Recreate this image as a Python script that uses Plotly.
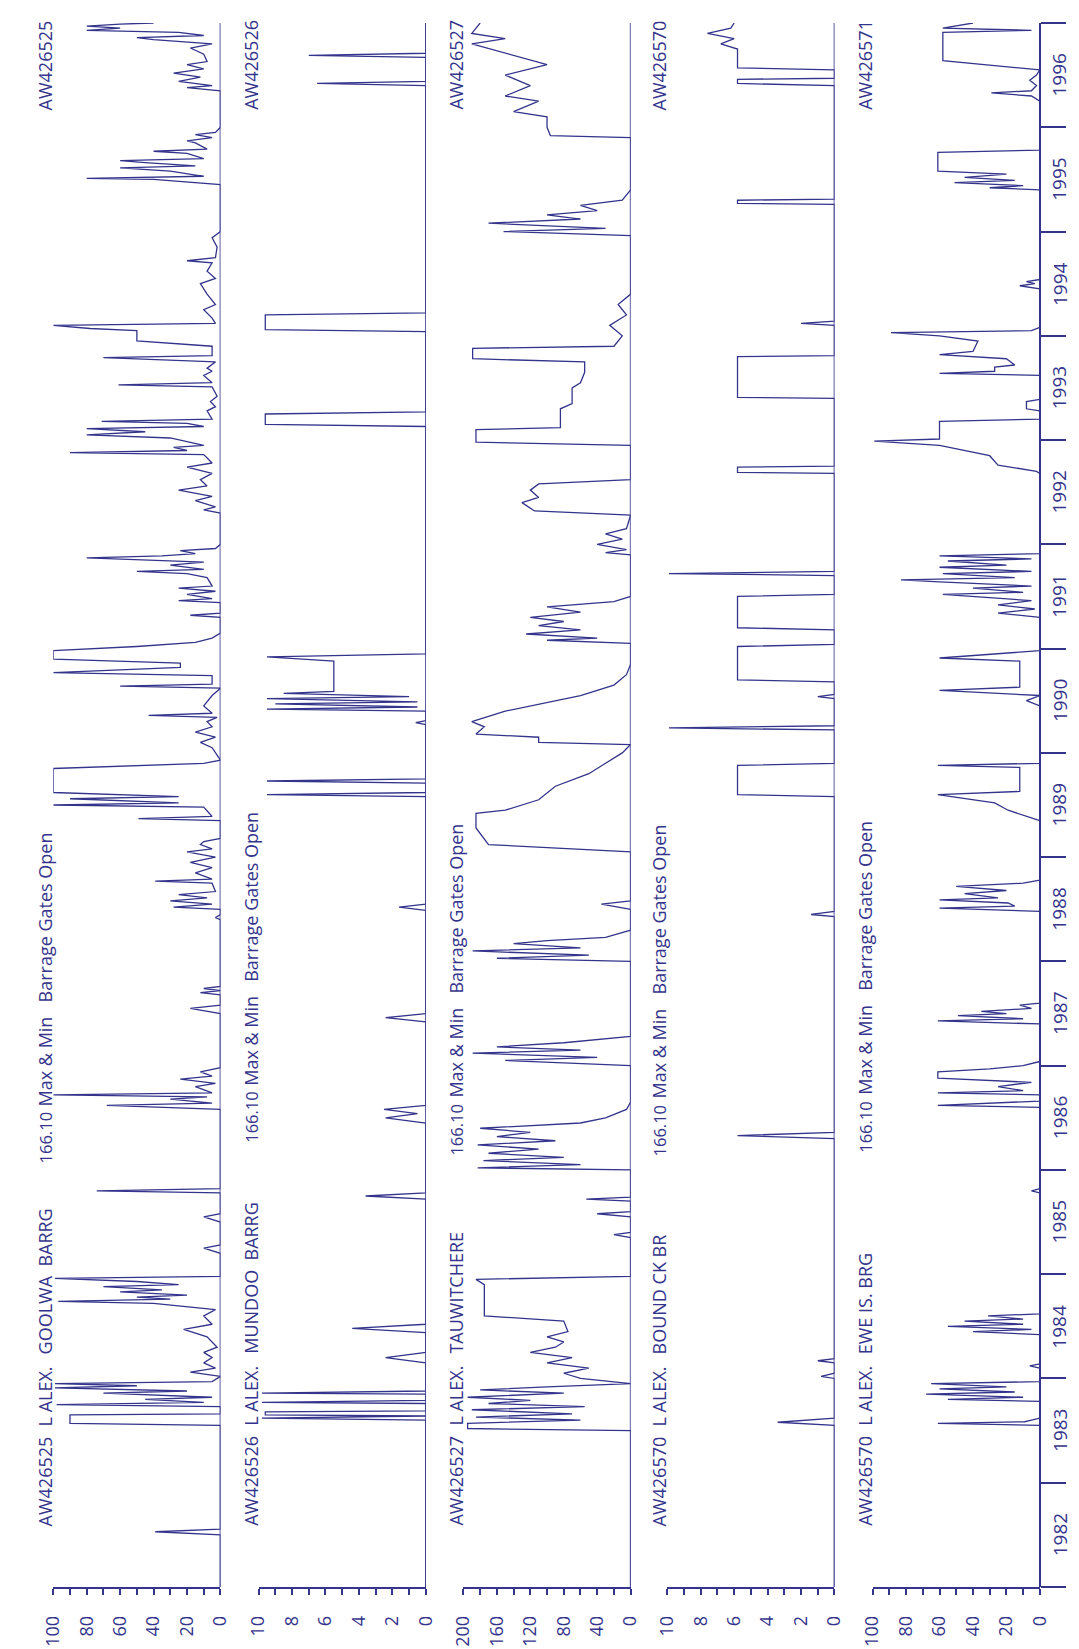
import plotly.graph_objects as go

# ---------------- data (time in decimal years, value) ----------------
t_goolwa = [1982.0, 1982.50, 1982.53, 1982.555, 1983.55, 1983.57, 1983.65, 1983.66, 1983.73, 1983.75, 1983.77, 1983.80, 1983.82,
            1983.86, 1983.88, 1983.91, 1983.93, 1983.95, 1983.97, 1984.02, 1984.06, 1984.10, 1984.15, 1984.20, 1984.25, 1984.30,
            1984.40, 1984.47, 1984.52, 1984.60, 1984.66, 1984.72, 1984.74, 1984.76, 1984.78, 1984.80, 1984.83, 1984.85, 1984.88,
            1984.90, 1984.93, 1984.96, 1984.98, 1985.20, 1985.25, 1985.28, 1985.50, 1985.55, 1985.58, 1985.78, 1985.80, 1985.82,
            1986.58, 1986.62, 1986.64, 1986.68, 1986.70, 1986.72, 1986.74, 1986.80, 1986.83, 1986.87, 1986.90, 1986.94, 1986.98,
            1987.50, 1987.55, 1987.58, 1987.68, 1987.70, 1987.72, 1987.74, 1987.76, 1988.40, 1988.42, 1988.45, 1988.50, 1988.52,
            1988.55, 1988.58, 1988.61, 1988.64, 1988.67, 1988.75, 1988.77, 1988.79, 1988.85, 1988.90, 1988.95, 1989.00, 1989.05,
            1989.08, 1989.12, 1989.15, 1989.18, 1989.35, 1989.37, 1989.39, 1989.48, 1989.50, 1989.52, 1989.56, 1989.58, 1989.62,
            1989.85, 1989.90, 1989.93, 1990.05, 1990.10, 1990.15, 1990.20, 1990.25, 1990.30, 1990.34, 1990.36, 1990.38, 1990.45,
            1990.55, 1990.62, 1990.64, 1990.66, 1990.74, 1990.77, 1990.82, 1990.86, 1990.90, 1990.98, 1991.02, 1991.06, 1991.10,
            1991.15, 1991.30, 1991.32, 1991.34, 1991.44, 1991.46, 1991.48, 1991.52, 1991.55, 1991.58, 1991.60, 1991.68, 1991.72,
            1991.74, 1991.76, 1991.80, 1991.83, 1991.87, 1991.89, 1991.91, 1991.94, 1991.96, 1992.00, 1992.30, 1992.33, 1992.36,
            1992.42, 1992.46, 1992.52, 1992.56, 1992.62, 1992.68, 1992.74, 1992.78, 1992.86, 1992.88, 1992.90, 1992.93, 1992.95,
            1993.02, 1993.05, 1993.08, 1993.11, 1993.13, 1993.16, 1993.18, 1993.20, 1993.28, 1993.32, 1993.37, 1993.42, 1993.51,
            1993.53, 1993.55, 1993.62, 1993.66, 1993.69, 1993.75, 1993.79, 1993.81, 1993.90, 1993.95, 1994.05, 1994.07, 1994.10,
            1994.12, 1994.17, 1994.25, 1994.30, 1994.40, 1994.50, 1994.55, 1994.62, 1994.70, 1994.72, 1994.75, 1994.85, 1994.94,
            1995.00, 1995.45, 1995.50, 1995.51, 1995.53, 1995.58, 1995.61, 1995.63, 1995.66, 1995.68, 1995.70, 1995.75, 1995.77,
            1995.79, 1995.85, 1995.87, 1995.90, 1995.93, 1995.95, 1996.00, 1996.35, 1996.38, 1996.40, 1996.44, 1996.48, 1996.52,
            1996.56, 1996.60, 1996.63, 1996.70, 1996.76, 1996.80, 1996.84, 1996.86, 1996.88, 1996.91, 1996.93, 1996.95, 1996.97,
            1996.99, 1997.0]
v_goolwa = [0, 0, 39, 0, 0, 90, 90, 0, 0, 98, 10, 45, 5,
            70, 20, 99, 50, 99, 5, 0, 18, 3, 10, 5, 10, 2,
            8, 22, 5, 10, 3, 40, 97, 30, 50, 20, 60, 35, 70,
            25, 50, 99, 0, 0, 10, 0, 0, 10, 0, 0, 74, 0,
            0, 68, 5, 30, 8, 100, 5, 15, 3, 24, 5, 12, 0,
            0, 18, 0, 0, 12, 0, 10, 0, 0, 3, 0, 0, 28,
            5, 30, 8, 25, 3, 5, 39, 5, 15, 5, 18, 3, 20,
            5, 12, 10, 0, 0, 49, 5, 10, 100, 25, 90, 25, 100,
            100, 10, 0, 5, 12, 3, 15, 5, 8, 2, 43, 5, 10,
            5, 0, 60, 5, 5, 100, 24, 24, 100, 100, 50, 15, 5,
            0, 0, 18, 0, 0, 25, 5, 20, 3, 25, 5, 8, 20,
            50, 10, 30, 10, 80, 35, 15, 24, 3, 0, 0, 10, 3,
            15, 5, 25, 8, 12, 5, 20, 5, 10, 90, 20, 28, 10,
            30, 80, 45, 80, 10, 20, 71, 5, 8, 3, 6, 2, 5,
            61, 5, 10, 5, 8, 3, 70, 5, 5, 50, 50, 78, 100,
            3, 5, 10, 3, 8, 12, 3, 8, 5, 20, 3, 2, 5,
            0, 0, 40, 80, 10, 30, 60, 15, 45, 60, 10, 20, 40,
            8, 15, 20, 5, 15, 3, 0, 0, 20, 5, 25, 12, 28,
            10, 20, 8, 10, 18, 5, 40, 50, 10, 25, 80, 60, 80,
            60, 40]

t_mundoo = [1982.0, 1983.60, 1983.62, 1983.64, 1983.65, 1983.68, 1983.69, 1983.76, 1983.77, 1983.79, 1983.85, 1983.86,
            1983.88, 1984.15, 1984.20, 1984.25, 1984.44, 1984.48, 1984.52, 1985.72, 1985.75, 1985.78, 1986.45, 1986.50,
            1986.54, 1986.58, 1986.62, 1987.42, 1987.46, 1987.50, 1988.49, 1988.52, 1988.55, 1989.58, 1989.60, 1989.62,
            1989.71, 1989.73, 1989.75, 1990.27, 1990.29, 1990.31, 1990.40, 1990.42, 1990.44, 1990.47, 1990.49, 1990.52,
            1990.54, 1990.57, 1990.59, 1990.88, 1990.92, 1990.95, 1993.13, 1993.15, 1993.25, 1993.27, 1994.04, 1994.06,
            1994.20, 1994.22, 1996.40, 1996.42, 1996.44, 1996.67, 1996.69, 1996.71, 1997.0]
v_mundoo = [0, 0, 9.8, 0, 9.6, 9.6, 0, 0, 9.8, 0, 0, 9.8,
            0, 0, 2.4, 0, 0, 4.4, 0, 0, 3.6, 0, 0, 2.4,
            0.5, 2.5, 0, 0, 2.4, 0, 0, 1.6, 0, 0, 9.5, 0,
            0, 9.5, 0, 0, 0.6, 0, 0, 9.5, 0.5, 9.0, 0.5, 9.5,
            1, 8.5, 5.5, 5.5, 9.5, 0, 0, 9.6, 9.6, 0, 0, 9.6,
            9.6, 0, 0, 6.5, 0, 0, 7.0, 0, 0]

t_tauw = [1982.0, 1983.50, 1983.52, 1983.57, 1983.60, 1983.63, 1983.66, 1983.70, 1983.73, 1983.76, 1983.79, 1983.82,
          1983.86, 1983.89, 1983.92, 1983.95, 1984.00, 1984.05, 1984.10, 1984.15, 1984.20, 1984.25, 1984.30, 1984.35,
          1984.40, 1984.45, 1984.55, 1984.60, 1984.90, 1984.95, 1984.98, 1985.35, 1985.38, 1985.40, 1985.55, 1985.58,
          1985.60, 1985.70, 1985.72, 1985.74, 1986.00, 1986.02, 1986.05, 1986.09, 1986.12, 1986.16, 1986.20, 1986.24,
          1986.28, 1986.32, 1986.36, 1986.40, 1986.45, 1986.50, 1986.58, 1986.65, 1987.00, 1987.05, 1987.08, 1987.12,
          1987.15, 1987.18, 1987.22, 1987.25, 1987.28, 1988.00, 1988.03, 1988.06, 1988.10, 1988.13, 1988.17, 1988.20,
          1988.23, 1988.30, 1988.50, 1988.55, 1988.58, 1989.05, 1989.12, 1989.28, 1989.42, 1989.45, 1989.55, 1989.68,
          1989.80, 1989.90, 1990.00, 1990.08, 1990.10, 1990.15, 1990.18, 1990.25, 1990.30, 1990.40, 1990.55, 1990.65,
          1990.75, 1990.85, 1991.05, 1991.08, 1991.10, 1991.14, 1991.18, 1991.22, 1991.26, 1991.30, 1991.35, 1991.40,
          1991.45, 1991.50, 1991.90, 1991.92, 1991.95, 1992.00, 1992.05, 1992.10, 1992.15, 1992.28, 1992.32, 1992.40,
          1992.45, 1992.52, 1992.58, 1992.62, 1992.95, 1992.98, 1993.10, 1993.12, 1993.30, 1993.35, 1993.50, 1993.55,
          1993.65, 1993.75, 1993.78, 1993.88, 1993.90, 1994.00, 1994.10, 1994.20, 1994.30, 1994.40, 1994.96, 1995.00,
          1995.03, 1995.08, 1995.12, 1995.16, 1995.20, 1995.25, 1995.30, 1995.40, 1995.90, 1995.92, 1996.00, 1996.10,
          1996.15, 1996.25, 1996.30, 1996.40, 1996.50, 1996.60, 1996.80, 1996.85, 1996.90, 1997.0]
v_tauw = [0, 0, 195, 195, 60, 185, 70, 190, 55, 170, 120, 195,
          80, 180, 100, 0, 60, 80, 50, 100, 70, 120, 90, 80,
          100, 75, 80, 175, 175, 185, 0, 0, 20, 0, 0, 40,
          0, 0, 53, 0, 0, 183, 60, 176, 80, 170, 110, 183,
          90, 160, 120, 180, 60, 30, 5, 0, 0, 150, 40, 189,
          60, 160, 80, 40, 0, 0, 160, 50, 189, 60, 140, 100,
          30, 0, 0, 35, 0, 0, 170, 185, 185, 150, 110, 90,
          50, 30, 10, 0, 110, 110, 185, 175, 190, 150, 60, 20,
          5, 0, 0, 100, 40, 125, 60, 110, 80, 120, 60, 100,
          20, 0, 0, 30, 5, 40, 10, 30, 5, 0, 115, 130,
          110, 120, 110, 0, 0, 185, 185, 84, 84, 70, 70, 60,
          55, 55, 189, 189, 20, 10, 25, 5, 15, 0, 0, 152,
          30, 170, 60, 100, 40, 60, 10, 0, 0, 96, 100, 100,
          140, 110, 150, 120, 150, 100, 190, 150, 190, 180]

t_bound = [1982.0, 1983.55, 1983.58, 1983.62, 1984.00, 1984.02, 1984.05, 1984.15, 1984.17, 1984.19, 1986.30, 1986.33,
           1986.36, 1988.43, 1988.45, 1988.48, 1989.58, 1989.60, 1989.88, 1989.90, 1990.22, 1990.24, 1990.26, 1990.52,
           1990.54, 1990.56, 1990.68, 1990.70, 1991.02, 1991.04, 1991.18, 1991.20, 1991.50, 1991.52, 1991.70, 1991.72,
           1991.74, 1992.68, 1992.69, 1992.74, 1992.75, 1993.40, 1993.41, 1993.80, 1993.81, 1994.10, 1994.12, 1994.14,
           1995.26, 1995.27, 1995.30, 1995.31, 1996.40, 1996.42, 1996.46, 1996.47, 1996.55, 1996.57, 1996.75, 1996.80,
           1996.85, 1996.90, 1996.95, 1997.0]
v_bound = [0, 0, 3.4, 0, 0, 0.8, 0, 0, 1.0, 0, 0, 5.8,
           0, 0, 1.4, 0, 0, 5.8, 5.8, 0, 0, 9.9, 0, 0,
           1.0, 0, 0, 5.8, 5.8, 0, 0, 5.8, 5.8, 0, 0, 9.9,
           0, 0, 5.8, 5.8, 0, 0, 5.8, 5.8, 0, 0, 2.0, 0,
           0, 5.8, 5.8, 0, 0, 5.8, 5.8, 0, 0, 5.8, 5.8, 6.8,
           6.0, 7.6, 6.2, 6.0]

t_ewe = [1982.0, 1983.55, 1983.57, 1983.585, 1983.60, 1983.62, 1983.78, 1983.80, 1983.82, 1983.85, 1983.87, 1983.90,
         1983.92, 1983.95, 1983.97, 1984.10, 1984.12, 1984.14, 1984.42, 1984.45, 1984.47, 1984.50, 1984.52, 1984.55,
         1984.57, 1984.60, 1984.62, 1985.78, 1985.80, 1985.82, 1986.60, 1986.62, 1986.66, 1986.72, 1986.74, 1986.76,
         1986.80, 1986.84, 1986.88, 1986.94, 1986.97, 1987.00, 1987.04, 1987.40, 1987.43, 1987.45, 1987.48, 1987.50,
         1987.52, 1987.55, 1987.58, 1987.60, 1988.48, 1988.51, 1988.53, 1988.56, 1988.59, 1988.61, 1988.65, 1988.68,
         1988.72, 1988.75, 1988.78, 1989.35, 1989.45, 1989.52, 1989.60, 1989.63, 1989.86, 1989.88, 1989.90, 1990.45,
         1990.50, 1990.55, 1990.60, 1990.63, 1990.88, 1990.91, 1990.98, 1991.30, 1991.34, 1991.38, 1991.42, 1991.46,
         1991.52, 1991.54, 1991.58, 1991.60, 1991.64, 1991.66, 1991.68, 1991.72, 1991.74, 1991.78, 1991.80, 1991.84,
         1991.86, 1991.89, 1991.91, 1992.68, 1992.70, 1992.76, 1992.85, 1992.95, 1992.99, 1993.01, 1993.05, 1993.18,
         1993.20, 1993.28, 1993.30, 1993.37, 1993.39, 1993.62, 1993.64, 1993.66, 1993.70, 1993.72, 1993.78, 1993.82,
         1993.85, 1993.95, 1994.00, 1994.03, 1994.05, 1994.08, 1994.45, 1994.48, 1994.50, 1994.52, 1994.54, 1995.40,
         1995.42, 1995.44, 1995.47, 1995.49, 1995.52, 1995.55, 1995.58, 1995.76, 1995.78, 1996.25, 1996.30, 1996.33,
         1996.35, 1996.40, 1996.45, 1996.50, 1996.55, 1996.64, 1996.91, 1996.93, 1996.95, 1997.0]
v_ewe = [0, 0, 61, 9, 5, 0, 0, 55, 10, 68, 15, 60,
         20, 65, 0, 0, 6, 0, 0, 40, 5, 55, 10, 45,
         10, 31, 0, 0, 5, 0, 0, 61, 0, 0, 61, 10,
         25, 5, 61, 61, 30, 10, 0, 0, 61, 10, 49, 20,
         35, 5, 12, 0, 0, 60, 15, 19, 60, 25, 45, 20,
         50, 10, 0, 0, 19, 27, 61, 12, 12, 61, 0, 0,
         8, 0, 60, 12, 12, 60, 0, 0, 25, 3, 25, 5,
         58, 10, 40, 5, 60, 83, 15, 58, 5, 60, 20, 55,
         5, 60, 0, 0, 2, 25, 30, 60, 99, 60, 60, 60,
         0, 0, 8, 8, 0, 0, 60, 27, 27, 15, 20, 60,
         40, 37, 60, 89, 5, 0, 0, 12, 3, 8, 0, 0,
         30, 10, 51, 15, 45, 20, 61, 61, 0, 0, 5, 29,
         5, 2, 6, 2, 0, 58, 58, 5, 58, 40]

station_ids = ["AW426525", "AW426526", "AW426527", "AW426570", "AW426571"]
title_ids = ["AW426525", "AW426526", "AW426527", "AW426570", "AW426570"]
station_names = ["GOOLWA\u00a0\u00a0BARRG", "MUNDOO\u00a0\u00a0BARRG", "TAUWITCHERE",
                 "BOUND\u00a0CK\u00a0BR", "EWE\u00a0IS.\u00a0BRG"]
value_max = [100, 10, 200, 10, 100]
label_step = [20, 2, 40, 2, 20]
tick_step = [10, 1, 20, 1, 10]
years = list(range(1982, 1998))

series_t = [t_goolwa, t_mundoo, t_tauw, t_bound, t_ewe]
series_v = [v_goolwa, v_mundoo, v_tauw, v_bound, v_ewe]

# ---------------- styling / layout ----------------
W, H = 1079, 1649
COL = "#34348c"
FONT = "Open Sans"
left_px = [33, 243, 452.5, 661, 871]
panel_w = 171
y_bot_px, y_top_px = 1579, 15
ydom = [(H - y_bot_px) / H, (H - y_top_px) / H]


def px_to_year(ypx):
    return 1982 + (y_bot_px - ypx) * 15.0 / (y_bot_px - y_top_px)


# bottom (start) pixel of each title piece: id, "L ALEX.", name, "166.10", "Max & Min", "Barrage Gates Open"
piece_px = [
    [1520, 1420, 1348, 1157, 1100, 996],
    [1520, 1420, 1348, 1137, 1080, 976],
    [1520, 1420, 1348, 1150, 1092, 988],
    [1520, 1420, 1348, 1150, 1092, 988],
    [1520, 1420, 1348, 1147, 1089, 985],
]
piece_size = [18, 18, 18, 16.5, 18, 18]

fig = go.Figure()
layout = dict(width=W, height=H, margin=dict(l=0, r=0, t=0, b=0),
              paper_bgcolor="white", plot_bgcolor="white", showlegend=False)

annotations = []
shapes = []
for i in range(5):
    ax = "x" if i == 0 else f"x{i+1}"
    axkey = "xaxis" if i == 0 else f"xaxis{i+1}"
    fig.add_trace(go.Scatter(x=series_v[i], y=series_t[i], mode="lines",
                             line=dict(color=COL, width=1.3), xaxis=ax, yaxis="y",
                             hoverinfo="skip"))
    d0 = left_px[i] / W
    d1 = (left_px[i] + panel_w) / W
    layout[axkey] = dict(domain=[d0, d1], range=[value_max[i], 0], anchor="y",
                         showline=True, linecolor=COL, linewidth=1.5,
                         ticks="outside", ticklen=6, tickwidth=1.5, tickcolor=COL,
                         tick0=0, dtick=label_step[i], tickangle=-90,
                         tickfont=dict(family=FONT, size=18, color=COL),
                         ticklabelstandoff=14,
                         minor=dict(ticks="outside", dtick=tick_step[i], ticklen=6,
                                    tickwidth=1.5, tickcolor=COL, showgrid=False),
                         showgrid=False, zeroline=False, fixedrange=True)
    shapes.append(dict(type="line", xref=ax, yref="y", x0=0, x1=0, y0=1982, y1=1997,
                       line=dict(color=COL, width=1.6)))
    cx = (left_px[i] - 8) / W
    texts = [title_ids[i], "L\u00a0ALEX.", station_names[i], "166.10", "Max &amp; Min", "Barrage Gates Open"]
    for txt, ypx, fs in zip(texts, piece_px[i], piece_size):
        annotations.append(dict(text=txt, xref="paper", yref="y", x=cx, y=px_to_year(ypx),
                                xanchor="center", yanchor="bottom", textangle=-90, showarrow=False,
                                font=dict(family=FONT, size=fs, color=COL)))
    annotations.append(dict(text=station_ids[i], xref="paper", yref="paper", x=cx,
                            y=(H - 10) / H, xanchor="center", yanchor="top", textangle=-90,
                            showarrow=False, font=dict(family=FONT, size=18, color=COL)))

# time axis labels (mid-year)
for yr in years[:-1]:
    annotations.append(dict(text=str(yr), xref="paper", yref="y", x=1062 / W, y=yr + 0.5,
                            xanchor="center", yanchor="middle", textangle=-90, showarrow=False,
                            font=dict(family=FONT, size=19, color=COL)))

layout["yaxis"] = dict(domain=ydom, range=[1982, 1997], anchor="free", position=(left_px[4] + panel_w) / W,
                       side="right", showline=True, linecolor=COL, linewidth=1.5,
                       ticks="outside", ticklen=25, tickwidth=1.5, tickcolor=COL,
                       tickvals=years, showticklabels=False, showgrid=False, zeroline=False,
                       fixedrange=True)
layout["annotations"] = annotations
layout["shapes"] = shapes
fig.update_layout(**layout)
fig.write_html("out.html")
